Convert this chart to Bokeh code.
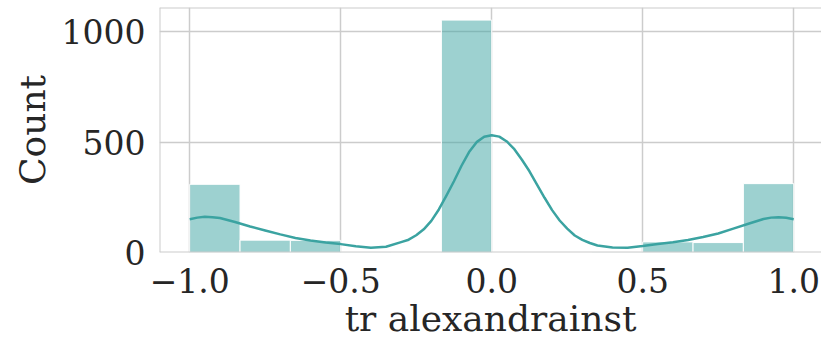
from bokeh.plotting import figure
from bokeh.models import Range1d, FixedTicker, Span, ColumnDataSource
from bokeh.embed import file_html
from bokeh.resources import INLINE

# ---- data ----
bin_edges = [-1.0, -0.8333, -0.6667, -0.5, -0.3333, -0.1667, 0.0,
             0.1667, 0.3333, 0.5, 0.6667, 0.8333, 1.0]
counts = [309, 56, 55, 2, 0, 1053, 0, 0, 2, 48, 45, 312]

kde_x = [-1.0, -0.975, -0.95, -0.925, -0.9, -0.85, -0.8, -0.75, -0.7, -0.65,
         -0.6, -0.55, -0.5, -0.45, -0.4, -0.35, -0.3, -0.275, -0.25, -0.225,
         -0.2, -0.175, -0.15, -0.125, -0.1, -0.075, -0.05, -0.025, 0.0, 0.025,
         0.05, 0.075, 0.1, 0.125, 0.15, 0.175, 0.2, 0.225, 0.25, 0.275,
         0.3, 0.325, 0.35, 0.4, 0.45, 0.5, 0.55, 0.6, 0.65, 0.7,
         0.75, 0.8, 0.85, 0.9, 0.925, 0.95, 0.975, 1.0]
kde_y = [151, 158, 162, 160, 156, 138, 118, 100, 82, 66,
         54, 45, 38, 28, 21, 26, 47, 58, 78, 105,
         143, 195, 258, 323, 393, 455, 500, 524, 531, 525,
         503, 468, 420, 368, 308, 248, 192, 145, 108, 77,
         57, 43, 32, 23, 22, 29, 38, 46, 57, 70,
         86, 108, 130, 152, 158, 160, 157, 151]

x_ticks = [-1.0, -0.5, 0.0, 0.5, 1.0]
x_tick_labels = ["\u22121.0", "\u22120.5", "0.0", "0.5", "1.0"]
y_ticks = [0, 500, 1000]

x_label = "tr alexandrainst"
y_label = "Count"

# ---- style ----
BASE = "#3ba3a1"
GRID = "#cccccc"
FONT = "DejaVu Serif"

X0, X1 = -1.1, 1.092
Y0, Y1 = 0, 1110

p = figure(width=821, height=341, output_backend="svg", toolbar_location=None,
           x_range=Range1d(X0, X1), y_range=Range1d(Y0, Y1),
           min_border_left=159, min_border_right=0, min_border_top=7,
           min_border_bottom=89)
p.outline_line_color = None
p.background_fill_color = "white"
p.border_fill_color = "white"

src = ColumnDataSource(dict(left=bin_edges[:-1], right=bin_edges[1:],
                            top=counts, bottom=[0] * len(counts)))
p.quad(left="left", right="right", top="top", bottom="bottom", source=src,
       fill_color=BASE, fill_alpha=0.5, line_color="white", line_width=1)

p.line(kde_x, kde_y, line_color=BASE, line_width=2.5, line_join="round")

# frame (left, top, bottom) - right edge lies beyond the window
for loc, dim in [(X0, "height"), (Y1, "width"), (Y0, "width")]:
    p.add_layout(Span(location=loc, dimension=dim, line_color=GRID,
                      line_width=2))

for ax in (p.xaxis[0], p.yaxis[0]):
    ax.axis_line_color = None
    ax.major_tick_line_color = None
    ax.minor_tick_line_color = None
    ax.major_tick_out = 0
    ax.major_tick_in = 0
    ax.major_label_text_font = FONT
    ax.major_label_text_font_size = "33px"
    ax.major_label_text_color = "#262626"
    ax.axis_label_text_font = FONT
    ax.axis_label_text_font_size = "36px"
    ax.axis_label_text_font_style = "normal"
    ax.axis_label_text_color = "#262626"

p.xaxis.ticker = FixedTicker(ticks=x_ticks)
p.xaxis.major_label_overrides = {t: l for t, l in zip(x_ticks, x_tick_labels)}
p.yaxis.ticker = FixedTicker(ticks=y_ticks)
p.xaxis.axis_label = x_label
p.yaxis.axis_label = y_label
p.xaxis.major_label_standoff = 15
p.yaxis.major_label_standoff = 14
p.xaxis.axis_label_standoff = 2
p.yaxis.axis_label_standoff = 6

p.xgrid.grid_line_color = GRID
p.ygrid.grid_line_color = GRID
p.xgrid.grid_line_width = 1.5
p.ygrid.grid_line_width = 1.5

open("out.html", "w").write(file_html(p, INLINE))
